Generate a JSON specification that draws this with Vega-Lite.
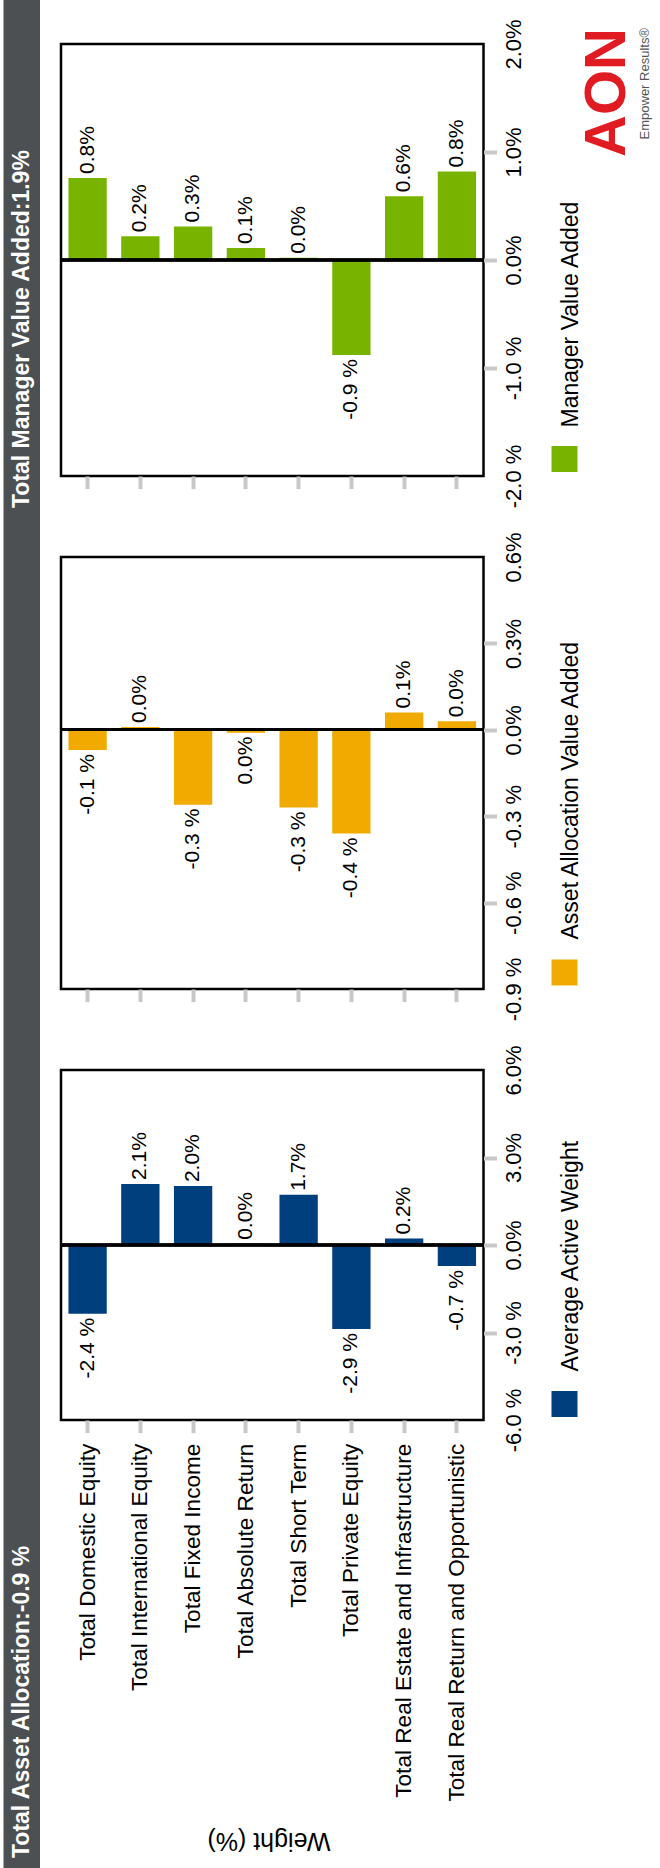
{
  "$schema": "https://vega.github.io/schema/vega-lite/v6.json",
  "background": "white",
  "padding": {"left": 3.5, "top": 0, "right": 0, "bottom": 0},
  "bounds": "flush",
  "spacing": 20.5,
  "datasets": {
    "headers": [
      {"header": "Total Manager Value Added:1.9%"},
      {"header": "Total Asset Allocation:-0.9 %"}
    ],
    "attribution": [
      {"cat": "Total Domestic Equity", "series": "Manager Value Added", "v": 0.76},
      {"cat": "Total International Equity", "series": "Manager Value Added", "v": 0.22},
      {"cat": "Total Fixed Income", "series": "Manager Value Added", "v": 0.31},
      {"cat": "Total Absolute Return", "series": "Manager Value Added", "v": 0.11},
      {"cat": "Total Short Term", "series": "Manager Value Added", "v": 0.02},
      {"cat": "Total Private Equity", "series": "Manager Value Added", "v": -0.88},
      {"cat": "Total Real Estate and Infrastructure", "series": "Manager Value Added", "v": 0.59},
      {"cat": "Total Real Return and Opportunistic", "series": "Manager Value Added", "v": 0.82},
      {"cat": "Total Domestic Equity", "series": "Asset Allocation Value Added", "v": -0.07},
      {"cat": "Total International Equity", "series": "Asset Allocation Value Added", "v": 0.01},
      {"cat": "Total Fixed Income", "series": "Asset Allocation Value Added", "v": -0.26},
      {"cat": "Total Absolute Return", "series": "Asset Allocation Value Added", "v": -0.01},
      {"cat": "Total Short Term", "series": "Asset Allocation Value Added", "v": -0.27},
      {"cat": "Total Private Equity", "series": "Asset Allocation Value Added", "v": -0.36},
      {"cat": "Total Real Estate and Infrastructure", "series": "Asset Allocation Value Added", "v": 0.06},
      {"cat": "Total Real Return and Opportunistic", "series": "Asset Allocation Value Added", "v": 0.03},
      {"cat": "Total Domestic Equity", "series": "Average Active Weight", "v": -2.36},
      {"cat": "Total International Equity", "series": "Average Active Weight", "v": 2.09},
      {"cat": "Total Fixed Income", "series": "Average Active Weight", "v": 2.02},
      {"cat": "Total Absolute Return", "series": "Average Active Weight", "v": 0.04},
      {"cat": "Total Short Term", "series": "Average Active Weight", "v": 1.72},
      {"cat": "Total Private Equity", "series": "Average Active Weight", "v": -2.88},
      {"cat": "Total Real Estate and Infrastructure", "series": "Average Active Weight", "v": 0.22},
      {"cat": "Total Real Return and Opportunistic", "series": "Average Active Weight", "v": -0.72}
    ]
  },
  "config": {
    "font": "Liberation Sans",
    "view": {"stroke": null},
    "axis": {"grid": false, "domain": false, "labelColor": "black", "titleColor": "black"}
  },
  "hconcat": [
    {
      "width": 36.5,
      "height": 1868,
      "view": {"fill": "#4c5052", "stroke": null},
      "data": {"name": "headers"},
      "mark": {"type": "text", "angle": 270, "align": "left", "baseline": "middle", "color": "white", "fontSize": 23, "fontWeight": "bold"},
      "encoding": {
        "y": {"field": "header", "type": "nominal", "sort": null, "scale": {"type": "point", "range": [508, 1858], "padding": 0}, "axis": null},
        "text": {"field": "header"}
      }
    },
    {
      "bounds": "flush",
      "spacing": 0,
      "data": {"name": "attribution"},
      "resolve": {"scale": {"color": "independent"}, "legend": {"color": "independent"}},
      "vconcat": [
        {"width": 422.5, "height": 44, "data": {"values": []}, "mark": "point"},
        {
          "width": 422.5,
          "height": 432,
          "view": {"stroke": "black", "strokeWidth": 2.5},
          "title": {
            "text": "AON",
            "subtitle": "Empower Results®",
            "orient": "left",
            "anchor": "end",
            "frame": "group",
            "offset": -592,
            "dx": 16,
            "color": "#e11b22",
            "fontSize": 58,
            "fontWeight": "bold",
            "subtitleColor": "#555555",
            "subtitleFontSize": 13,
            "subtitlePadding": 2
          },
          "transform": [
            {"filter": {"field": "series", "equal": "Manager Value Added"}},
            {"calculate": "round(datum.v * 10) < 0 ? '-' + format(abs(datum.v), '.1f') + ' %' : format(abs(datum.v), '.1f') + '%'", "as": "label"}
          ],
          "encoding": {
            "y": {
              "field": "v", "type": "quantitative",
              "scale": {"domain": [-2, 2], "nice": false, "zero": false},
              "axis": {
                "orient": "right", "values": [-2, -1, 0, 1, 2],
                "labelExpr": "datum.value < 0 ? '-' + format(-datum.value, '.1f') + ' %' : format(datum.value, '.1f') + '%'",
                "labelAngle": 270, "labelAlign": "center", "labelBaseline": "top", "labelFontSize": 22, "labelPadding": 7,
                "labelFlush": false, "labelOverlap": false, "labelBound": false,
                "ticks": true, "tickSize": 13, "tickWidth": 4, "tickColor": "#c8c8c8",
                "tickOpacity": {"condition": {"test": "datum.index === 0 || datum.index === 1", "value": 0}, "value": 1},
                "domain": false, "grid": false,
                "title": "Manager Value Added", "titleAngle": 270, "titleAlign": "left", "titleBaseline": "middle",
                "titleFontSize": 23, "titleFontWeight": "normal", "titleX": 87, "titleY": 383
              }
            }
          },
          "layer": [
            {
              "mark": {"type": "bar"},
              "encoding": {
                "x": {"field": "cat", "type": "nominal", "sort": null, "scale": {"paddingInner": 0.274, "paddingOuter": 0.141},
                      "axis": {"title": null, "labels": false, "domain": false, "ticks": true, "tickSize": 12.6, "tickWidth": 4, "tickColor": "#c8c8c8", "grid": false}},
                "color": {"field": "series", "type": "nominal", "scale": {"range": ["#78b300"]},
                          "legend": {"orient": "none", "legendX": 490.5, "legendY": 402, "title": null, "symbolType": "square", "symbolSize": 676, "symbolStrokeWidth": 0, "labelExpr": "''", "padding": 0, "labelOffset": 0, "symbolOffset": 0}}
              }
            },
            {"mark": {"type": "rule", "color": "black", "strokeWidth": 2.5}, "encoding": {"y": {"datum": 0}}},
            {
              "transform": [{"filter": "datum.v >= 0"}],
              "mark": {"type": "text", "angle": 270, "align": "left", "baseline": "middle", "dx": 4, "fontSize": 21, "color": "black"},
              "encoding": {
                "x": {"field": "cat", "type": "nominal", "sort": null, "scale": {"paddingInner": 0.274, "paddingOuter": 0.141},
                      "axis": {"title": null, "labels": false, "domain": false, "ticks": true, "tickSize": 12.6, "tickWidth": 4, "tickColor": "#c8c8c8", "grid": false}},
                "text": {"field": "label"}
              }
            },
            {
              "transform": [{"filter": "datum.v < 0"}],
              "mark": {"type": "text", "angle": 270, "align": "right", "baseline": "middle", "dx": -4, "fontSize": 21, "color": "black"},
              "encoding": {
                "x": {"field": "cat", "type": "nominal", "sort": null, "scale": {"paddingInner": 0.274, "paddingOuter": 0.141},
                      "axis": {"title": null, "labels": false, "domain": false, "ticks": true, "tickSize": 12.6, "tickWidth": 4, "tickColor": "#c8c8c8", "grid": false}},
                "text": {"field": "label"}
              }
            }
          ]
        },
        {"width": 422.5, "height": 81, "data": {"values": []}, "mark": "point"},
        {
          "width": 422.5,
          "height": 432,
          "view": {"stroke": "black", "strokeWidth": 2.5},
          "transform": [
            {"filter": {"field": "series", "equal": "Asset Allocation Value Added"}},
            {"calculate": "round(datum.v * 10) < 0 ? '-' + format(abs(datum.v), '.1f') + ' %' : format(abs(datum.v), '.1f') + '%'", "as": "label"}
          ],
          "encoding": {
            "y": {
              "field": "v", "type": "quantitative",
              "scale": {"domain": [-0.9, 0.6], "nice": false, "zero": false},
              "axis": {
                "orient": "right", "values": [-0.9, -0.6, -0.3, 0, 0.3, 0.6],
                "labelExpr": "datum.value < 0 ? '-' + format(-datum.value, '.1f') + ' %' : format(datum.value, '.1f') + '%'",
                "labelAngle": 270, "labelAlign": "center", "labelBaseline": "top", "labelFontSize": 22, "labelPadding": 7,
                "labelFlush": false, "labelOverlap": false, "labelBound": false,
                "ticks": true, "tickSize": 13, "tickWidth": 4, "tickColor": "#c8c8c8",
                "tickOpacity": {"condition": {"test": "datum.index === 0 || datum.index === 1", "value": 0}, "value": 1},
                "domain": false, "grid": false,
                "title": "Asset Allocation Value Added", "titleAngle": 270, "titleAlign": "left", "titleBaseline": "middle",
                "titleFontSize": 23, "titleFontWeight": "normal", "titleX": 87, "titleY": 382
              }
            }
          },
          "layer": [
            {
              "mark": {"type": "bar"},
              "encoding": {
                "x": {"field": "cat", "type": "nominal", "sort": null, "scale": {"paddingInner": 0.274, "paddingOuter": 0.141},
                      "axis": {"title": null, "labels": false, "domain": false, "ticks": true, "tickSize": 12.6, "tickWidth": 4, "tickColor": "#c8c8c8", "grid": false}},
                "color": {"field": "series", "type": "nominal", "scale": {"range": ["#f0aa00"]},
                          "legend": {"orient": "none", "legendX": 490.5, "legendY": 402.5, "title": null, "symbolType": "square", "symbolSize": 676, "symbolStrokeWidth": 0, "labelExpr": "''", "padding": 0, "labelOffset": 0, "symbolOffset": 0}}
              }
            },
            {"mark": {"type": "rule", "color": "black", "strokeWidth": 2.5}, "encoding": {"y": {"datum": 0}}},
            {
              "transform": [{"filter": "datum.v >= 0"}],
              "mark": {"type": "text", "angle": 270, "align": "left", "baseline": "middle", "dx": 4, "fontSize": 21, "color": "black"},
              "encoding": {
                "x": {"field": "cat", "type": "nominal", "sort": null, "scale": {"paddingInner": 0.274, "paddingOuter": 0.141},
                      "axis": {"title": null, "labels": false, "domain": false, "ticks": true, "tickSize": 12.6, "tickWidth": 4, "tickColor": "#c8c8c8", "grid": false}},
                "text": {"field": "label"}
              }
            },
            {
              "transform": [{"filter": "datum.v < 0"}],
              "mark": {"type": "text", "angle": 270, "align": "right", "baseline": "middle", "dx": -4, "fontSize": 21, "color": "black"},
              "encoding": {
                "x": {"field": "cat", "type": "nominal", "sort": null, "scale": {"paddingInner": 0.274, "paddingOuter": 0.141},
                      "axis": {"title": null, "labels": false, "domain": false, "ticks": true, "tickSize": 12.6, "tickWidth": 4, "tickColor": "#c8c8c8", "grid": false}},
                "text": {"field": "label"}
              }
            }
          ]
        },
        {"width": 422.5, "height": 81, "data": {"values": []}, "mark": "point"},
        {
          "width": 422.5,
          "height": 350,
          "view": {"stroke": "black", "strokeWidth": 2.5},
          "transform": [
            {"filter": {"field": "series", "equal": "Average Active Weight"}},
            {"calculate": "round(datum.v * 10) < 0 ? '-' + format(abs(datum.v), '.1f') + ' %' : format(abs(datum.v), '.1f') + '%'", "as": "label"}
          ],
          "encoding": {
            "y": {
              "field": "v", "type": "quantitative",
              "scale": {"domain": [-6, 6], "nice": false, "zero": false},
              "axis": {
                "orient": "right", "values": [-6, -3, 0, 3, 6],
                "labelExpr": "datum.value < 0 ? '-' + format(-datum.value, '.1f') + ' %' : format(datum.value, '.1f') + '%'",
                "labelAngle": 270, "labelAlign": "center", "labelBaseline": "top", "labelFontSize": 22, "labelPadding": 7,
                "labelFlush": false, "labelOverlap": false, "labelBound": false,
                "ticks": true, "tickSize": 13, "tickWidth": 4, "tickColor": "#c8c8c8",
                "tickOpacity": {"condition": {"test": "datum.index === 0 || datum.index === 1", "value": 0}, "value": 1},
                "domain": false, "grid": false,
                "title": "Average Active Weight", "titleAngle": 270, "titleAlign": "left", "titleBaseline": "middle",
                "titleFontSize": 23, "titleFontWeight": "normal", "titleX": 87, "titleY": 301
              }
            }
          },
          "layer": [
            {
              "mark": {"type": "bar"},
              "encoding": {
                "x": {"field": "cat", "type": "nominal", "sort": null, "scale": {"paddingInner": 0.274, "paddingOuter": 0.141},
                      "axis": {"title": "Weight (%)", "titleAngle": 180, "titleFontSize": 25, "titleFontWeight": "normal", "titleX": 207.5, "titleY": 420.5, "titleAlign": "center", "titleBaseline": "middle",
                               "labels": true, "labelAngle": 270, "labelAlign": "right", "labelBaseline": "middle", "labelFontSize": 22.6, "labelPadding": 10.5, "labelLimit": 500, "labelOverlap": false,
                               "domain": false, "ticks": true, "tickSize": 12.6, "tickWidth": 4, "tickColor": "#c8c8c8", "grid": false}},
                "color": {"field": "series", "type": "nominal", "scale": {"range": ["#003f7d"]},
                          "legend": {"orient": "none", "legendX": 490.5, "legendY": 321, "title": null, "symbolType": "square", "symbolSize": 676, "symbolStrokeWidth": 0, "labelExpr": "''", "padding": 0, "labelOffset": 0, "symbolOffset": 0}}
              }
            },
            {"mark": {"type": "rule", "color": "black", "strokeWidth": 2.5}, "encoding": {"y": {"datum": 0}}},
            {
              "transform": [{"filter": "datum.v >= 0"}],
              "mark": {"type": "text", "angle": 270, "align": "left", "baseline": "middle", "dx": 4, "fontSize": 21, "color": "black"},
              "encoding": {
                "x": {"field": "cat", "type": "nominal", "sort": null, "scale": {"paddingInner": 0.274, "paddingOuter": 0.141},
                      "axis": {"title": "Weight (%)", "titleAngle": 180, "titleFontSize": 25, "titleFontWeight": "normal", "titleX": 207.5, "titleY": 420.5, "titleAlign": "center", "titleBaseline": "middle",
                               "labels": true, "labelAngle": 270, "labelAlign": "right", "labelBaseline": "middle", "labelFontSize": 22.6, "labelPadding": 10.5, "labelLimit": 500, "labelOverlap": false,
                               "domain": false, "ticks": true, "tickSize": 12.6, "tickWidth": 4, "tickColor": "#c8c8c8", "grid": false}},
                "text": {"field": "label"}
              }
            },
            {
              "transform": [{"filter": "datum.v < 0"}],
              "mark": {"type": "text", "angle": 270, "align": "right", "baseline": "middle", "dx": -4, "fontSize": 21, "color": "black"},
              "encoding": {
                "x": {"field": "cat", "type": "nominal", "sort": null, "scale": {"paddingInner": 0.274, "paddingOuter": 0.141},
                      "axis": {"title": "Weight (%)", "titleAngle": 180, "titleFontSize": 25, "titleFontWeight": "normal", "titleX": 207.5, "titleY": 420.5, "titleAlign": "center", "titleBaseline": "middle",
                               "labels": true, "labelAngle": 270, "labelAlign": "right", "labelBaseline": "middle", "labelFontSize": 22.6, "labelPadding": 10.5, "labelLimit": 500, "labelOverlap": false,
                               "domain": false, "ticks": true, "tickSize": 12.6, "tickWidth": 4, "tickColor": "#c8c8c8", "grid": false}},
                "text": {"field": "label"}
              }
            }
          ]
        }
      ]
    }
  ]
}
